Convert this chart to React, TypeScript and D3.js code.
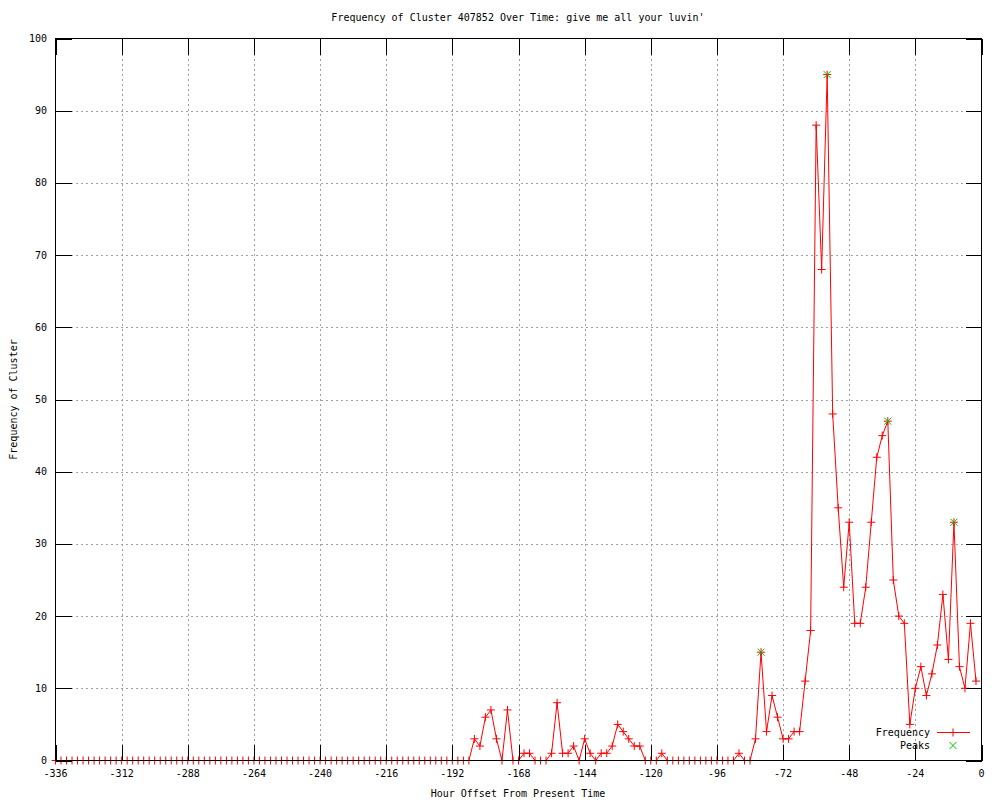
import React from "react";
import * as d3 from "d3";

// Hour offsets (every 2 hours, -336 .. -2)
const hours: number[] = d3.range(-336, 0, 2);

// Frequency values, one row per 24 hours (12 points)
const frequency: number[] = [
  0, 0, 0, 0, 0, 0, 0, 0, 0, 0, 0, 0, // -336 .. -314
  0, 0, 0, 0, 0, 0, 0, 0, 0, 0, 0, 0, // -312 .. -290
  0, 0, 0, 0, 0, 0, 0, 0, 0, 0, 0, 0, // -288 .. -266
  0, 0, 0, 0, 0, 0, 0, 0, 0, 0, 0, 0, // -264 .. -242
  0, 0, 0, 0, 0, 0, 0, 0, 0, 0, 0, 0, // -240 .. -218
  0, 0, 0, 0, 0, 0, 0, 0, 0, 0, 0, 0, // -216 .. -194
  0, 0, 0, 0, 3, 2, 6, 7, 3, 0, 7, 0, // -192 .. -170
  0, 1, 1, 0, 0, 0, 1, 8, 1, 1, 2, 0, // -168 .. -146
  3, 1, 0, 1, 1, 2, 5, 4, 3, 2, 2, 0, // -144 .. -122
  0, 0, 1, 0, 0, 0, 0, 0, 0, 0, 0, 0, // -120 .. -98
  0, 0, 0, 0, 1, 0, 0, 3, 15, 4, 9, 6, // -96 .. -74
  3, 3, 4, 4, 11, 18, 88, 68, 95, 48, 35, 24, // -72 .. -50
  33, 19, 19, 24, 33, 42, 45, 47, 25, 20, 19, 5, // -48 .. -26
  10, 13, 9, 12, 16, 23, 14, 33, 13, 10, 19, 11, // -24 .. -2
];

const peakHours: number[] = [-80, -56, -34, -10];
const peakValues: number[] = [15, 95, 47, 33];

const xTicks: number[] = [-336, -312, -288, -264, -240, -216, -192, -168, -144, -120, -96, -72, -48, -24, 0];
const yTicks: number[] = [0, 10, 20, 30, 40, 50, 60, 70, 80, 90, 100];

const title = "Frequency of Cluster 407852 Over Time: give me all your luvin'";
const xLabel = "Hour Offset From Present Time";
const yLabel = "Frequency of Cluster";
const legendLabels = ["Frequency", "Peaks"];

const W = 1000;
const H = 800;
const left = 55.5;
const right = 981.5;
const top = 38.5;
const bottom = 760.5;
const FONT = "'DejaVu Sans Mono', monospace";
const TICK = 16;

export default function App() {
  const x = d3.scaleLinear().domain([-336, 0]).range([left, right]);
  const y = d3.scaleLinear().domain([0, 100]).range([bottom, top]);

  const data = hours.map((h, i) => ({ h, v: frequency[i] }));
  const line = d3
    .line<{ h: number; v: number }>()
    .x((d) => x(d.h))
    .y((d) => y(d.v));

  const plus = (cx: number, cy: number, s: number, key: string, color: string) => (
    <path key={key} d={`M${cx - s},${cy}H${cx + s}M${cx},${cy - s}V${cy + s}`} stroke={color} strokeWidth={1} fill="none" />
  );
  const cross = (cx: number, cy: number, s: number, key: string, color: string) => (
    <path key={key} d={`M${cx - s},${cy - s}L${cx + s},${cy + s}M${cx - s},${cy + s}L${cx + s},${cy - s}`} stroke={color} strokeWidth={1} fill="none" />
  );

  const legX = 953;
  const legY1 = 732.5;
  const legY2 = 745.5;

  return (
    <svg width={W} height={H} style={{ position: "absolute", left: 0, top: 0, background: "#fff" }} fontFamily={FONT} fontSize={10}>
      <rect x={0} y={0} width={W} height={H} fill="#fff" />
      {/* grid */}
      <g stroke="#a0a0a0" strokeWidth={1} strokeDasharray="2,3" shapeRendering="crispEdges">
        {xTicks.slice(1, -1).map((t) => (
          <line key={"gx" + t} x1={Math.round(x(t)) + 0.5} x2={Math.round(x(t)) + 0.5} y1={top} y2={bottom} />
        ))}
        {yTicks.slice(1, -1).map((t) => (
          <line key={"gy" + t} x1={left} x2={right} y1={Math.round(y(t)) + 0.5} y2={Math.round(y(t)) + 0.5} />
        ))}
      </g>
      {/* data line */}
      <path d={line(data) || ""} fill="none" stroke="#ff0000" strokeWidth={1} />
      {data.map((d, i) => plus(x(d.h), y(d.v), 4, "p" + i, "#ff0000"))}
      {peakHours.map((h, i) => cross(x(h), y(peakValues[i]), 3.5, "k" + i, "#00c000"))}
      {/* border and ticks */}
      <g stroke="#000" strokeWidth={1} fill="none" shapeRendering="crispEdges">
        <rect x={left} y={top} width={right - left} height={bottom - top} />
        {xTicks.map((t) => {
          const px = Math.round(x(t)) + 0.5;
          return (
            <g key={"tx" + t}>
              <line x1={px} x2={px} y1={bottom} y2={bottom - TICK} />
              <line x1={px} x2={px} y1={top} y2={top + TICK} />
            </g>
          );
        })}
        {yTicks.map((t) => {
          const py = Math.round(y(t)) + 0.5;
          return (
            <g key={"ty" + t}>
              <line x1={left} x2={left + TICK} y1={py} y2={py} />
              <line x1={right} x2={right - TICK} y1={py} y2={py} />
            </g>
          );
        })}
      </g>
      {/* tick labels */}
      {xTicks.map((t) => (
        <text key={"lx" + t} x={x(t)} y={777} textAnchor="middle" fill="#000">
          {t}
        </text>
      ))}
      {yTicks.map((t) => (
        <text key={"ly" + t} x={47} y={y(t) + 3.5} textAnchor="end" fill="#000">
          {t}
        </text>
      ))}
      {/* titles */}
      <text x={518} y={21} textAnchor="middle" fill="#000">
        {title}
      </text>
      <text x={518} y={797} textAnchor="middle" fill="#000">
        {xLabel}
      </text>
      <text transform={`translate(17,${(top + bottom) / 2}) rotate(-90)`} textAnchor="middle" fill="#000">
        {yLabel}
      </text>
      {/* legend */}
      <text x={930} y={legY1 + 3.5} textAnchor="end" fill="#000">
        {legendLabels[0]}
      </text>
      <line x1={937} x2={970} y1={legY1} y2={legY1} stroke="#ff0000" strokeWidth={1} />
      {plus(legX, legY1, 4, "lp", "#ff0000")}
      <text x={930} y={legY2 + 3.5} textAnchor="end" fill="#000">
        {legendLabels[1]}
      </text>
      {cross(legX, legY2, 3.5, "lk", "#00c000")}
    </svg>
  );
}
